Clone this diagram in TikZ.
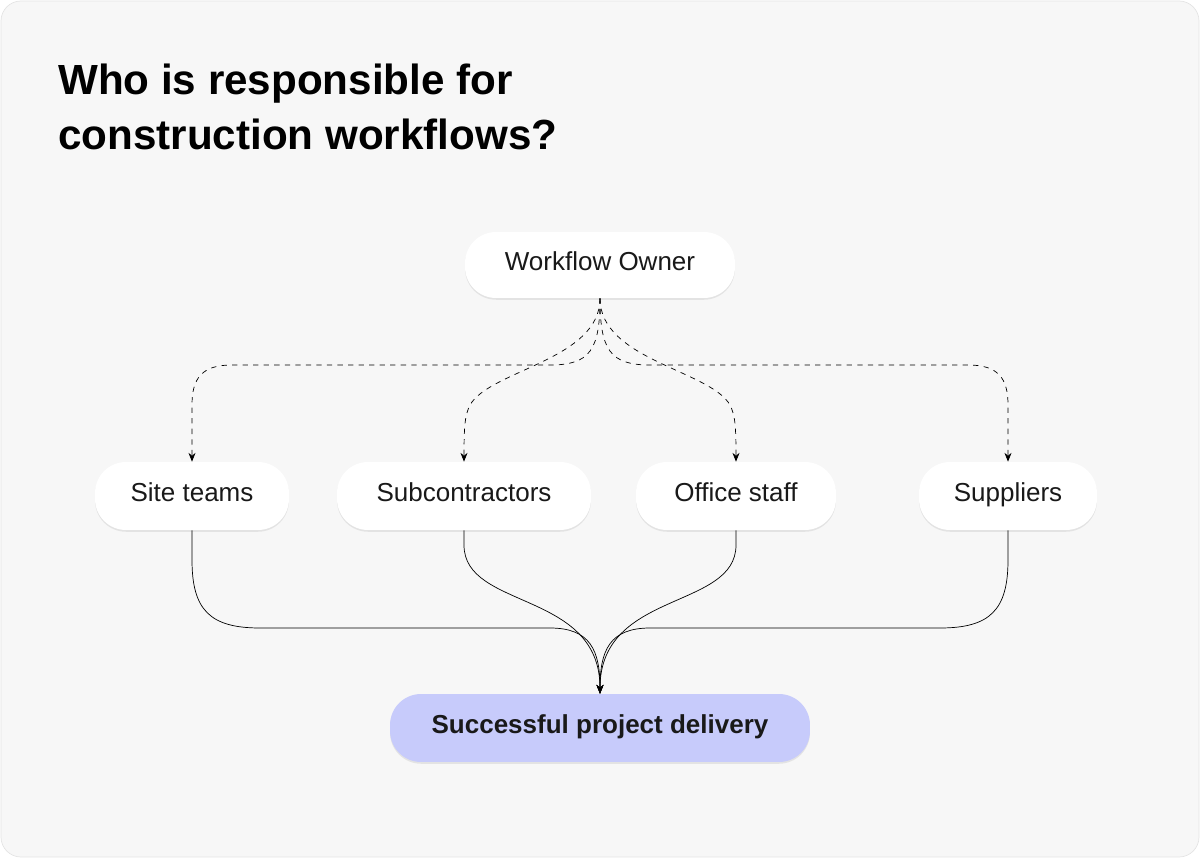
\documentclass[tikz,border=0pt]{standalone}
\usepackage{fontspec}
\setmainfont{Liberation Sans}
\usepackage{xcolor}
\usetikzlibrary{positioning, arrows.meta, shadows}
\definecolor{panel}{HTML}{F7F7F7}
\definecolor{panelline}{HTML}{E4E4E4}
\definecolor{goal}{HTML}{C7CBFB}

\begin{document}
\begin{tikzpicture}[
    x=0.02cm, y=-0.02cm,
    box/.style={rectangle, rounded corners=0.62cm, fill=white, minimum height=1.36cm,
        text height=1.6ex, text depth=0.45ex,
        font=\fontsize{14.8}{17}\selectfont, text=black!90,
        drop shadow={shadow xshift=0pt, shadow yshift=-1pt, opacity=0.08, fill=black}},
    flow/.style={-{Stealth[length=5pt,width=4pt]}, thin, dashed},
    feed/.style={-{Stealth[length=5pt,width=4pt]}, thin}
]
\useasboundingbox (0,0) rectangle (1200,858);
\draw[panelline, fill=panel, rounded corners=0.4cm] (1,1) rectangle (1199,857);

\node[anchor=north west, align=left, font=\fontsize{24}{31}\selectfont\bfseries] (title) at (52,58)
    {Who is responsible for\\construction workflows?};

\node[box, minimum width=5.4cm, minimum height=1.32cm] (owner) at (600,265) {Workflow Owner};
\node[box, minimum width=3.88cm] (site) at (192,496) {Site teams};
\node[box, minimum width=5.08cm] (sub) at (464,496) {Subcontractors};
\node[box, minimum width=4.0cm] (office) at (736,496) {Office staff};
\node[box, minimum width=3.56cm] (supp) at (1008,496) {Suppliers};
\node[box, fill=goal, minimum width=8.4cm, font=\fontsize{14.8}{17}\selectfont\bfseries] (goal) at (600,728) {Successful project delivery};

% owner to teams
\draw[flow] (owner.south) .. controls (600,350) and (590,365) .. (550,365) -- (232,365)
    .. controls (202,365) and (192,378) .. (192,405) -- (site.north);
\draw[flow] (owner.south) .. controls (600,360) and (490,370) .. (470,405) .. controls (465,415) and (464,425) .. (sub.north);
\draw[flow] (owner.south) .. controls (600,360) and (710,370) .. (730,405) .. controls (735,415) and (736,425) .. (office.north);
\draw[flow] (owner.south) .. controls (600,350) and (610,365) .. (650,365) -- (968,365)
    .. controls (998,365) and (1008,378) .. (1008,405) -- (supp.north);

% teams to goal
\draw[feed] (site.south) -- (192,560) .. controls (192,610) and (210,628) .. (260,628) -- (550,628)
    .. controls (590,628) and (600,650) .. (goal.north);
\draw[feed] (sub.south) -- (464,545) .. controls (464,610) and (600,590) .. (goal.north);
\draw[feed] (office.south) -- (736,545) .. controls (736,610) and (600,590) .. (goal.north);
\draw[feed] (supp.south) -- (1008,560) .. controls (1008,610) and (990,628) .. (940,628) -- (650,628)
    .. controls (610,628) and (600,650) .. (goal.north);
\end{tikzpicture}
\end{document}
